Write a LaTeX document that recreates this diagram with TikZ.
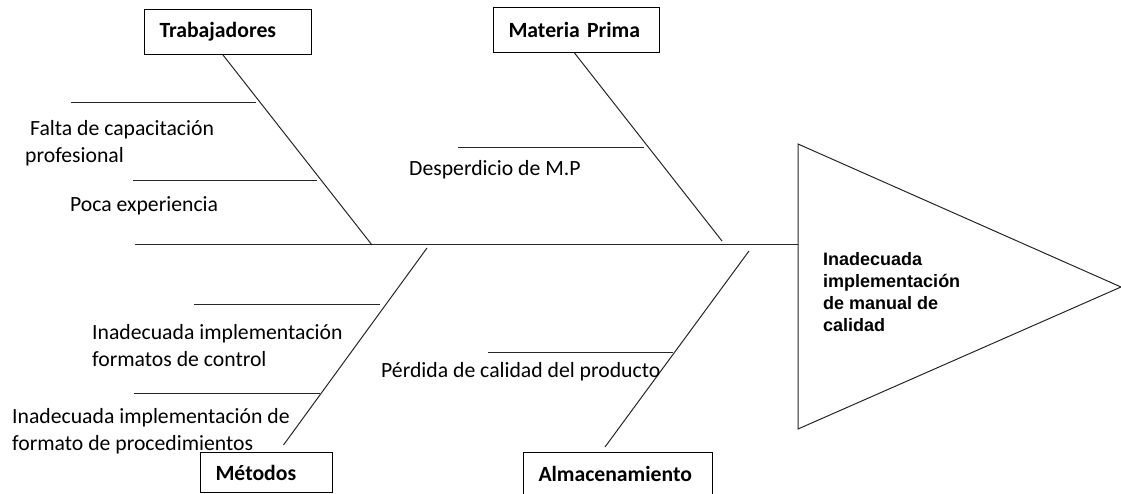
\documentclass[tikz,border=0pt]{standalone}
\usepackage{fontspec}
\setmainfont{Carlito}
\newfontfamily\arialfont{Liberation Sans}
\usepackage{tikz}

\tikzset{
    bone/.style={line width=1pt, color=black!85},
    causebox/.style={draw, line width=1pt, anchor=north west, align=left,
        inner xsep=15pt, inner ysep=0pt, minimum height=45pt,
        font=\fontsize{21.7}{27}\selectfont\bfseries},
    causetext/.style={anchor=west, align=left, inner sep=0pt,
        font=\fontsize{21.7}{27}\selectfont}
}

\begin{document}
\begin{tikzpicture}[x=1pt, y=-1pt]
                        \useasboundingbox (0,0) rectangle (1121,494);

                        % cabeza y espina
                        \coordinate (tail) at (135,245);
                        \coordinate (h1) at (798,144);
                        \coordinate (h2) at (1121,287);
                        \coordinate (h3) at (798,429);
                        \draw[bone] (h1) -- (h2) -- (h3) -- cycle;
                        \draw[bone] (tail) -- (tail -| h1);
                        \node[anchor=west, align=left, inner sep=0pt,
                              font=\arialfont\fontsize{18}{22}\selectfont\bfseries]
                              (efecto) at (823,292) {Inadecuada\\implementación\\de manual de\\calidad};

                        % categorias
                        \node[causebox, text width=137pt] (trab) at (144,9) {Trabajadores};
                        \node[causebox, text width=136pt] (mat) at (493,7) {Materia Prima};
                        \node[causebox, text width=102pt, minimum height=40pt] (met) at (200,452) {Métodos};
                        \node[causebox, text width=159pt, minimum height=42pt] (alm) at (523,452) {Almacenamiento};

                        \coordinate (trabE) at (372,245);
                        \coordinate (matE) at (722,241);
                        \coordinate (metE) at (427,248);
                        \coordinate (almE) at (749,251);
                        \draw[bone] ([xshift=-5pt]trab.south) -- (trabE);
                        \draw[bone] ([xshift=-2pt]mat.south) -- (matE);
                        \draw[bone] ([xshift=17pt,yshift=7pt]met.north) -- (metE);
                        \draw[bone] ([xshift=-13pt,yshift=5pt]alm.north) -- (almE);

                        % causas
                        \foreach \y/\a/\b in {103/71/256, 181/133/317, 148/458/644,
                                              304/194/380, 393/134/320, 352/488/673} {
                            \draw[bone] (\a,\y) -- (\b,\y);
                        }
                        \node[causetext] (c1) at (25,143.5) {\ Falta de capacitación\\profesional};
                        \node[causetext] (c2) at (70,206) {Poca experiencia};
                        \node[causetext] (c3) at (409,170) {Desperdicio de M.P};
                        \node[causetext] (c4) at (92,345.5) {Inadecuada implementación\\formatos de control};
                        \node[causetext] (c5) at (12,431) {Inadecuada implementación de\\formato de procedimientos};
                        \node[causetext] (c6) at (381,372) {Pérdida de calidad del producto};
                    \end{tikzpicture}
\end{document}
